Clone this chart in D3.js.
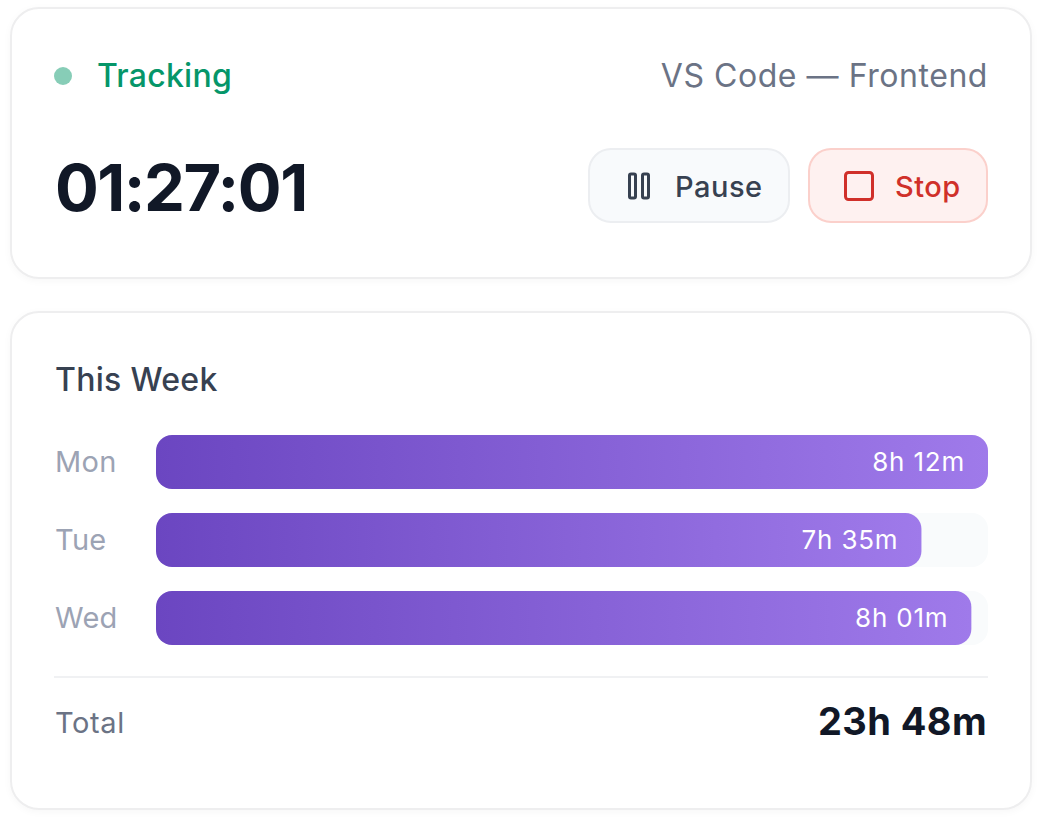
<!DOCTYPE html>
<html>
<head>
  <meta charset="utf-8">
  <style>
    body { margin: 0; background: #fff; font-family: Inter, sans-serif; }
    svg { display: block; }
    .card { fill: #fff; stroke: #eeeeef; stroke-width: 2px; filter: drop-shadow(0 2px 3px rgba(0,0,0,0.03)); }
    .day { font-size: 29px; fill: #9ca3b4; letter-spacing: 0.3px; }
    .dur { font-size: 26px; font-weight: 400; fill: #fff; text-anchor: end; letter-spacing: 0.8px; }
  </style>
</head>
<body>
  <script src="https://d3js.org/d3.v7.min.js"></script>
  <script>
  // week rows
  var days = ["Mon", "Tue", "Wed"]
  var fillPercent = [100, 92, 98]
  var durations = ["8h 12m", "7h 35m", "8h 01m"]

  var width = 1042
  var height = 824
  var svg = d3.select("body").append("svg")
    .attr("width", width)
    .attr("height", height)

  var x = d3.scaleLinear().domain([0, 100]).range([156, 988])
  var y = d3.scaleBand().domain(days).range([435, 645]).paddingInner(24 / 78)

  var grad = svg.append("defs").append("linearGradient")
    .attr("id", "barGrad")
  grad.append("stop").attr("offset", "0%").attr("stop-color", "#6b46c1")
  grad.append("stop").attr("offset", "100%").attr("stop-color", "#9f7aea")

  function text(tx, ty, s, size, weight, color, anchor, spacing) {
    return svg.append("text")
      .attr("x", tx)
      .attr("y", ty)
      .attr("font-size", size)
      .attr("font-weight", weight)
      .attr("fill", color)
      .attr("text-anchor", anchor || "start")
      .attr("letter-spacing", spacing || 0)
      .text(s)
  }

  // cards
  svg.append("rect").attr("class", "card")
    .attr("x", 11).attr("y", 8).attr("width", 1020).attr("height", 270).attr("rx", 28)
  svg.append("rect").attr("class", "card")
    .attr("x", 11).attr("y", 312).attr("width", 1020).attr("height", 497).attr("rx", 28)

  // timer header
  svg.append("circle").attr("cx", 63).attr("cy", 76).attr("r", 9)
    .attr("fill", "#059669").attr("opacity", 0.48)
  text(97, 87, "Tracking", 32, 500, "#059669", "start", 0.25)
  text(988, 87, "VS Code \u2014 Frontend", 32, 400, "#6b7385", "end", 0.55)
  text(55, 211, "01:27:01", 65, 700, "#111827", "start", -1.5)

  // pause button
  svg.append("rect").attr("x", 589).attr("y", 149).attr("width", 200).attr("height", 73).attr("rx", 22)
    .attr("fill", "#f8fafc").attr("stroke", "#eceef1").attr("stroke-width", 2)
  svg.append("rect").attr("x", 629.5).attr("y", 174).attr("width", 6).attr("height", 24).attr("rx", 1.5)
    .attr("fill", "none").attr("stroke", "#374151").attr("stroke-width", 3)
  svg.append("rect").attr("x", 642.5).attr("y", 174).attr("width", 6).attr("height", 24).attr("rx", 1.5)
    .attr("fill", "none").attr("stroke", "#374151").attr("stroke-width", 3)
  text(675, 197, "Pause", 29, 500, "#374151", "start", 0.5)

  // stop button
  svg.append("rect").attr("x", 809).attr("y", 149).attr("width", 178).attr("height", 73).attr("rx", 22)
    .attr("fill", "#fef1f0").attr("stroke", "#fbd0cb").attr("stroke-width", 2)
  svg.append("rect").attr("x", 845.5).attr("y", 172.5).attr("width", 27).attr("height", 27).attr("rx", 3)
    .attr("fill", "none").attr("stroke", "#d0302a").attr("stroke-width", 3)
  text(895, 197, "Stop", 29, 500, "#d0302a", "start", 0.5)

  // week
  text(55, 391, "This Week", 32, 500, "#374151", "start", 0.3)

  svg.selectAll(".day").data(days).join("text")
    .attr("class", "day")
    .attr("x", 55)
    .attr("y", function(d) { return y(d) + y.bandwidth() / 2 + 10 })
    .text(function(d) { return d })

  svg.selectAll(".track").data(days).join("rect")
    .attr("class", "track")
    .attr("x", x(0))
    .attr("y", function(d) { return y(d) })
    .attr("width", x(100) - x(0))
    .attr("height", y.bandwidth())
    .attr("rx", 16)
    .attr("fill", "#f9fbfc")

  svg.selectAll(".bar").data(days).join("rect")
    .attr("class", "bar")
    .attr("x", x(0))
    .attr("y", function(d) { return y(d) })
    .attr("width", function(d, i) { return x(fillPercent[i]) - x(0) })
    .attr("height", y.bandwidth())
    .attr("rx", 16)
    .attr("fill", "url(#barGrad)")

  svg.selectAll(".dur").data(days).join("text")
    .attr("class", "dur")
    .attr("x", function(d, i) { return x(fillPercent[i]) - 23 })
    .attr("y", function(d) { return y(d) + y.bandwidth() / 2 + 9 })
    .text(function(d, i) { return durations[i] })

  // total
  svg.append("line").attr("x1", 54).attr("x2", 988).attr("y1", 677).attr("y2", 677)
    .attr("stroke", "#f0f1f3").attr("stroke-width", 2)
  text(55, 733, "Total", 29, 400, "#6b7385", "start", 0.6)
  text(987, 735, "23h 48m", 38, 700, "#111827", "end", 0.4)
  </script>
</body>
</html>
